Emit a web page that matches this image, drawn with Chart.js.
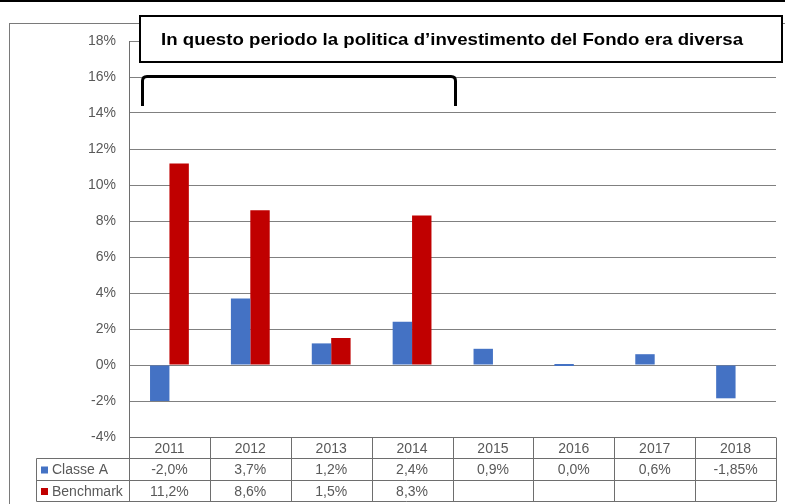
<!DOCTYPE html>
<html>
<head>
<meta charset="utf-8">
<script src="https://cdn.jsdelivr.net/npm/chart.js@4.4.1/dist/chart.umd.min.js"></script>
<style>
  html, body { margin: 0; padding: 0; background: #ffffff; }
  #wrap { width: 785px; height: 504px; position: relative; }
</style>
</head>
<body>
<div id="wrap"><canvas id="c" width="785" height="504"></canvas></div>
<script>
// ---- data ----
const categories = ['2011', '2012', '2013', '2014', '2015', '2016', '2017', '2018'];
const classeA = [-2.0, 3.7, 1.2, 2.4, 0.9, 0.0, 0.6, -1.85];
const benchmark = [11.2, 8.6, 1.5, 8.3, null, null, null, null];
const seriesNames = ['Classe A', 'Benchmark'];
const yTicks = [-4, -2, 0, 2, 4, 6, 8, 10, 12, 14, 16, 18];
const titleText = 'In questo periodo la politica d\u2019investimento del Fondo era diversa';

const BLUE = '#4472C4';
const RED = '#C00000';
const TEXT = '#595959';
const GRID = '#808080';
const TLINE = '#6e6e6e';
const FONT = '"Liberation Sans", Arial, sans-serif';

function fmt(v) {
  if (v === null || v === undefined) return '';
  const s = (Math.round(v * 10) === v * 10) ? v.toFixed(1) : v.toFixed(2);
  return s.replace('.', ',') + '%';
}

const decor = {
  id: 'decor',
  beforeDraw(chart) {
    const ctx = chart.ctx;
    ctx.save();
    ctx.fillStyle = '#ffffff';
    ctx.fillRect(0, 0, chart.width, chart.height);
    // outer frame
    ctx.strokeStyle = '#7a7a7a';
    ctx.lineWidth = 1;
    ctx.strokeRect(9.5, 23.5, 776, 490);
    // top black rule
    ctx.fillStyle = '#000000';
    ctx.fillRect(0, 0, 785, 2);
    ctx.restore();
  },
  afterDraw(chart) {
    const ctx = chart.ctx;
    const xs = chart.scales.x;
    const area = chart.chartArea;
    const n = categories.length;
    const colW = (area.right - area.left) / n;
    const top = Math.round(area.bottom) + 0.5;
    const r1 = 458.5, r2 = 480.5, r3 = 501.5;
    const labelLeft = 36.5;
    ctx.save();
    // table lines
    ctx.strokeStyle = TLINE;
    ctx.lineWidth = 1;
    ctx.beginPath();
    ctx.moveTo(area.left, top); ctx.lineTo(area.right, top);
    ctx.moveTo(labelLeft, r1); ctx.lineTo(area.right, r1);
    ctx.moveTo(labelLeft, r2); ctx.lineTo(area.right, r2);
    ctx.moveTo(labelLeft, r3); ctx.lineTo(area.right, r3);
    ctx.moveTo(labelLeft, r1); ctx.lineTo(labelLeft, r3);
    for (let i = 0; i <= n; i++) {
      const x = Math.round(area.left + i * colW) + 0.5;
      ctx.moveTo(x, top); ctx.lineTo(x, r3);
    }
    ctx.stroke();

    // texts
    ctx.fillStyle = TEXT;
    ctx.font = '14px ' + FONT;
    ctx.textAlign = 'center';
    ctx.textBaseline = 'middle';
    for (let i = 0; i < n; i++) {
      const cx = xs.getPixelForValue(i);
      ctx.fillText(categories[i], cx, (top + r1) / 2 + 1);
      ctx.fillText(fmt(classeA[i]), cx, (r1 + r2) / 2 + 1);
      ctx.fillText(fmt(benchmark[i]), cx, (r2 + r3) / 2 + 1);
    }
    // legend keys
    ctx.textAlign = 'left';
    const rowsY = [(r1 + r2) / 2, (r2 + r3) / 2];
    const cols = [BLUE, RED];
    for (let k = 0; k < 2; k++) {
      ctx.fillStyle = cols[k];
      ctx.fillRect(41, rowsY[k] - 3, 7, 7);
      ctx.fillStyle = TEXT;
      ctx.fillText(seriesNames[k], 52, rowsY[k] + 1);
    }

    // title box
    ctx.fillStyle = '#ffffff';
    ctx.fillRect(140, 16, 642, 46);
    ctx.strokeStyle = '#000000';
    ctx.lineWidth = 2;
    ctx.strokeRect(140, 16, 642, 46);
    ctx.fillStyle = '#000000';
    ctx.font = 'bold 17px ' + FONT;
    ctx.textAlign = 'left';
    ctx.textBaseline = 'alphabetic';
    const w = ctx.measureText(titleText).width;
    const sx = 582 / w;
    ctx.save();
    ctx.translate(161, 45);
    ctx.scale(sx, 1);
    ctx.fillText(titleText, 0, 0);
    ctx.restore();

    // bracket
    ctx.strokeStyle = '#000000';
    ctx.lineWidth = 3;
    ctx.lineJoin = 'round';
    ctx.beginPath();
    ctx.moveTo(142.5, 106);
    ctx.lineTo(142.5, 81);
    ctx.quadraticCurveTo(142.5, 76.5, 147, 76.5);
    ctx.lineTo(451, 76.5);
    ctx.quadraticCurveTo(455.5, 76.5, 455.5, 81);
    ctx.lineTo(455.5, 106);
    ctx.stroke();
    ctx.restore();
  }
};

new Chart(document.getElementById('c'), {
  type: 'bar',
  data: {
    labels: categories,
    datasets: [
      { label: seriesNames[0], data: classeA, backgroundColor: BLUE, borderWidth: 0, minBarLength: 2 },
      { label: seriesNames[1], data: benchmark, backgroundColor: RED, borderWidth: 0 }
    ]
  },
  options: {
    responsive: false,
    animation: false,
    devicePixelRatio: 1,
    layout: { padding: { top: 41, right: 9, bottom: 67, left: 0 } },
    datasets: { bar: { categoryPercentage: 0.48, barPercentage: 1.0 } },
    plugins: { legend: { display: false }, tooltip: { enabled: false } },
    scales: {
      x: { display: false, grid: { display: false } },
      y: {
        min: -4, max: 18,
        afterBuildTicks(scale) { scale.ticks = yTicks.map(v => ({ value: v })); },
        afterFit(scale) { scale.width = 129; },
        grid: { color: GRID, drawTicks: false, lineWidth: 1 },
        border: { display: true, color: '#6e6e6e' },
        ticks: {
          padding: 13,
          color: TEXT,
          font: { family: FONT, size: 14 },
          callback: v => v + '%'
        }
      }
    }
  },
  plugins: [decor]
});
</script>
</body>
</html>
